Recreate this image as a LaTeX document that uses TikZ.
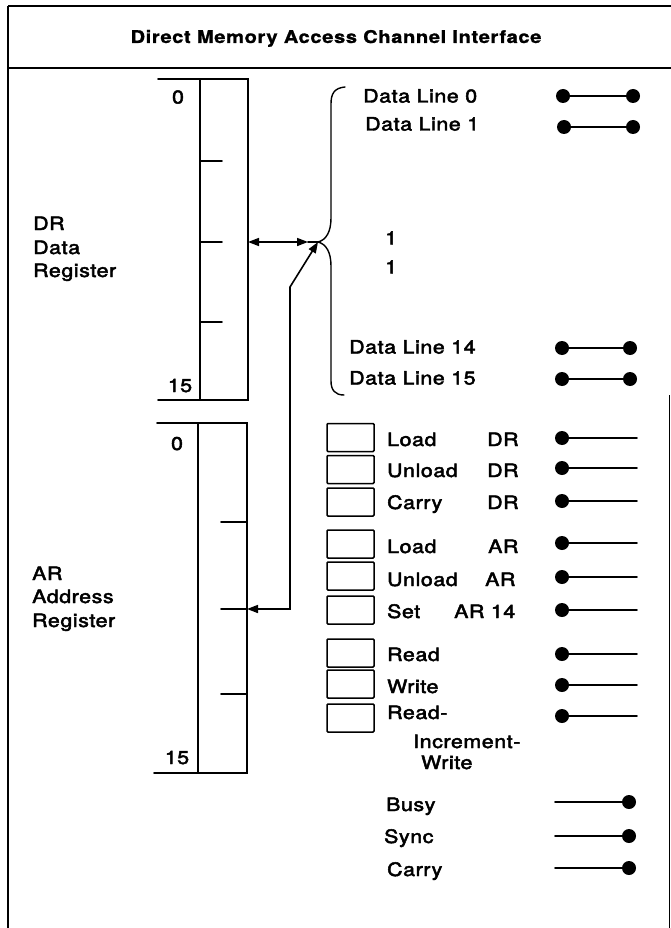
\documentclass[tikz,border=0pt]{standalone}
\usepackage{fontspec}
\setmainfont{TeX Gyre Heros}[LetterSpace=3,FakeBold=2.5]
\newfontfamily\titlefont{TeX Gyre Heros Bold}[LetterSpace=3,FakeBold=1]
\newcommand{\widetxt}[1]{\scalebox{1.15}[1]{#1}}
\usetikzlibrary{arrows.meta}
\begin{document}
\begin{tikzpicture}[x=1pt,y=-1pt,
  ln/.style={line width=1.6pt,line cap=round},
  frame/.style={line width=1.3pt},
  txt/.style={anchor=base west,inner sep=0pt,font=\fontsize{18.5}{20}\selectfont},
  ctxt/.style={anchor=base,inner sep=0pt,font=\fontsize{18.5}{20}\selectfont},
  ttl/.style={anchor=base,inner sep=0pt,font=\fontsize{17.5}{20}\titlefont},
  dotc/.style={fill=black,draw=none},
  sbox/.style={draw,line width=1.5pt,rounded corners=1pt}
]
\useasboundingbox (0,0) rectangle (671,928);
% frame
\coordinate (ftl) at (8,6);
\coordinate (ftr) at (671,6);
\coordinate (fbl) at (8,928);
\coordinate (dvl) at (8,68);
\coordinate (dvr) at (671,68);
\coordinate (rtop) at (669.5,395);
\coordinate (rbot) at (669.5,928);
\draw[frame] (ftl) -- (ftr);
\draw[frame] (dvl) -- (dvr);
\draw[frame] (ftl) -- (fbl);
\draw[frame] (rtop) -- (rbot);
\node[ttl] (title) at (336,43) {\widetxt{Direct Memory Access Channel Interface}};

% DR register
\coordinate (drtl) at (158,79);
\coordinate (drtr) at (248,79);
\coordinate (drbl) at (158,400);
\coordinate (drbr) at (248,400);
\coordinate (drit) at (200,79);
\coordinate (drib) at (200,400);
\draw[ln] (drtl) -- (drtr) -- (drbr) -- (drbl);
\draw[ln] (drit) -- (drib);
\foreach \yy in {161,242,322} \draw[ln] (200,\yy) -- (222,\yy);
\node[ctxt] (dr0) at (178,103.5) {\widetxt{0}};
\node[ctxt] (dr15) at (180,392) {\widetxt{15}};
\node[txt] (drl1) at (33,230) {\widetxt{DR}};
\node[txt] (drl2) at (33,254) {\widetxt{Data}};
\node[txt] (drl3) at (33,277) {\widetxt{Register}};

% AR register
\coordinate (artl) at (157,423);
\coordinate (artr) at (247,423);
\coordinate (arbl) at (154,773);
\coordinate (arbr) at (247,773);
\coordinate (arit) at (198,423);
\coordinate (arib) at (198,773);
\draw[ln] (artl) -- (artr) -- (arbr) -- (arbl);
\draw[ln] (arit) -- (arib);
\foreach \yy in {522,609,694} \draw[ln] (221,\yy) -- (247,\yy);
\node[ctxt] (ar0) at (177,450) {\widetxt{0}};
\node[ctxt] (ar15) at (177,764) {\widetxt{15}};
\node[txt] (arl1) at (32,580) {\widetxt{AR}};
\node[txt] (arl2) at (32,603) {\widetxt{Address}};
\node[txt] (arl3) at (32,627) {\widetxt{Register}};

% brace
\coordinate (btip) at (318,242);
\coordinate (btop) at (345,87);
\coordinate (bbot) at (344,395);
\draw[ln,line width=1.4pt] (btop) .. controls (334,88) and (331,94) .. (331,104) -- (331,218)
  .. controls (331,232) and (326,240) .. (btip)
  .. controls (326,244) and (331,252) .. (331,266) -- (331,381)
  .. controls (331,390) and (335,395) .. (bbot);

% DR <-> brace
\coordinate (drm) at (248,242);
\coordinate (drh) at (308,242);
\draw[ln,{Triangle[length=11pt,width=8pt]}-{Triangle[length=11pt,width=8pt]}] (drm) -- (drh);
\draw[ln] (drh) -- (btip);
% AR <-> brace
\coordinate (arm) at (247,609);
\coordinate (ac1) at (290,609);
\coordinate (ac2) at (290,287);
\draw[ln,{Triangle[length=11pt,width=8pt]}-{Triangle[length=11pt,width=8pt]}] (arm) -- (ac1) -- (ac2) -- (btip);

% data lines
\node[txt] (dl0) at (363,102.5) {\widetxt{Data Line 0}};
\node[txt] (dl1) at (365,130.5) {\widetxt{Data Line 1}};
\node[txt] (one1) at (385,244.5) {\widetxt{1}};
\node[txt] (one2) at (385,273.5) {\widetxt{1}};
\node[txt] (dl14) at (349,353.5) {\widetxt{Data Line 14}};
\node[txt] (dl15) at (349,384.5) {\widetxt{Data Line 15}};
\foreach \nm/\ya/\xa/\xb in {a/96/563/633, b/127/564/633, c/348/562/630, d/379/562/630}{
  \coordinate (dla\nm) at (\xa,\ya);
  \coordinate (dlb\nm) at (\xb,\ya);
  \draw[ln] (dla\nm) -- (dlb\nm);
  \fill[dotc] (dla\nm) circle (7);
  \fill[dotc] (dlb\nm) circle (7);
}

% control rows: boxes
\foreach \nm/\yc in {a/437.5,b/469.5,c/502,d/544,e/576,f/610,g/653,h/684,i/718}{
  \node[sbox,minimum width=47pt,minimum height=28pt,inner sep=0pt] (box\nm) at (350.5,\yc) {};
}
% control rows: lines
\foreach \nm/\yc in {a/438,b/468,c/501,d/543,e/577,f/610,g/654,h/685,i/716}{
  \coordinate (cla\nm) at (562,\yc);
  \coordinate (clb\nm) at (637,\yc);
  \draw[ln] (cla\nm) -- (clb\nm);
  \fill[dotc] (cla\nm) circle (7);
}
\node[txt] (t1) at (387,446) {\widetxt{Load}};
\node[txt] (t1r) at (487,446) {\widetxt{DR}};
\node[txt] (t2) at (387,477) {\widetxt{Unload}};
\node[txt] (t2r) at (487,477) {\widetxt{DR}};
\node[txt] (t3) at (387,509) {\widetxt{Carry}};
\node[txt] (t3r) at (487,509) {\widetxt{DR}};
\node[txt] (t4) at (387,553) {\widetxt{Load}};
\node[txt] (t4r) at (488,553) {\widetxt{AR}};
\node[txt] (t5) at (387,586) {\widetxt{Unload}};
\node[txt] (t5r) at (485,586) {\widetxt{AR}};
\node[txt] (t6) at (387,618) {\widetxt{Set}};
\node[txt] (t6r) at (454,618) {\widetxt{AR 14}};
\node[txt] (t7) at (387,661) {\widetxt{Read}};
\node[txt] (t8) at (387,693) {\widetxt{Write}};
\node[txt] (t9) at (387,719) {\widetxt{Read-}};
\node[txt] (t9b) at (413,748) {\widetxt{Increment-}};
\node[txt] (t9c) at (421,769) {\widetxt{Write}};

% status lines
\node[txt] (s1) at (386,811) {\widetxt{Busy}};
\node[txt] (s2) at (384,843) {\widetxt{Sync}};
\node[txt] (s3) at (387,876) {\widetxt{Carry}};
\foreach \nm/\yc in {a/802,b/836,c/868}{
  \coordinate (sla\nm) at (555,\yc);
  \coordinate (slb\nm) at (629,\yc);
  \draw[ln] (sla\nm) -- (slb\nm);
  \fill[dotc] (slb\nm) circle (7);
}
\end{tikzpicture}
\end{document}
